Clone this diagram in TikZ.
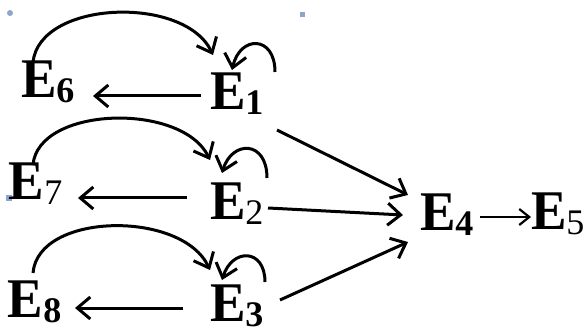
\documentclass[tikz,border=0pt]{standalone}
\usepackage{fontspec}
\setmainfont{Liberation Serif}
\usetikzlibrary{arrows.meta,calc}
\definecolor{handle}{RGB}{140,165,205}
\newcommand{\Elab}[2]{\scalebox{0.95}[1]{\fontsize{56}{56}\selectfont\bfseries E}\raisebox{-5pt}{\fontsize{36}{36}\selectfont #1#2}}
\begin{document}
\begin{tikzpicture}[x=1pt,y=-1pt,
  lab/.style={anchor=base west,inner sep=0pt,outer sep=0pt},
  arr/.style={line width=3pt,-{Straight Barb[length=13pt,width=22pt]}},
  thinarr/.style={line width=2.2pt,-{Straight Barb[length=10pt,width=16pt]}},
  handlemark/.style={fill=handle,draw=none}]
\useasboundingbox (0,0) rectangle (588,328);
% selection handles
\fill[handlemark] (10,13) circle (3);
\fill[handlemark] (299.5,12.5) rectangle (304.5,17.5);
\fill[handlemark] (6,195) rectangle (12,201);
% nodes
\node[lab] (e6) at (21,98) {\Elab{\bfseries}{6}};
\node[lab] (e1) at (210,110) {\Elab{\bfseries}{1}};
\node[lab] (e7) at (9,200) {\Elab{\mdseries}{7}};
\node[lab] (e2) at (210,220) {\Elab{\mdseries}{2}};
\node[lab] (e8) at (8,317) {\Elab{\bfseries}{8}};
\node[lab] (e3) at (210,321) {\Elab{\bfseries}{3}};
\node[lab] (e4) at (420,231) {\Elab{\bfseries}{4}};
\node[lab] (e5) at (531,230) {\Elab{\mdseries}{5}};
% horizontal arrows to the left
\draw[arr] ($(e1.base west)+(-9,-14)$) -- ($(e6.base west)+(72,-2)$);
\draw[arr] ($(e2.base west)+(-23,-22)$) -- ($(e7.base west)+(69,-2)$);
\draw[arr] ($(e3.base west)+(-27,-13)$) -- ($(e8.base west)+(67,-9)$);
% arrows into E4
\draw[arr] ($(e1.base west)+(67,20)$) -- ($(e4.base west)+(-12,-36)$);
\draw[arr] ($(e2.base west)+(58,-12)$) -- ($(e4.base west)+(-17,-16)$);
\draw[arr] ($(e3.base west)+(70,-21)$) -- ($(e4.base west)+(-12,11)$);
\draw[thinarr] ($(e4.base west)+(60,-14)$) -- ($(e5.base west)+(0,-13)$);
% big arcs
\draw[arr] ($(e6.base west)+(12,-36)$) .. controls (40,0) and (185,-5) .. ($(e1.base west)+(3,-55)$);
\draw[arr] ($(e7.base west)+(24,-35)$) .. controls (38,106) and (182,102) .. ($(e2.base west)+(0,-60)$);
\draw[arr] ($(e8.base west)+(25,-44)$) .. controls (38,212) and (182,210) .. ($(e3.base west)+(0,-51)$);
% self loops
\draw[arr] ($(e1.base west)+(65,-38)$) .. controls (275,35) and (240,35) .. ($(e1.base west)+(22,-40)$);
\draw[arr] ($(e2.base west)+(57,-42)$) .. controls (267,140) and (232,140) .. ($(e2.base west)+(12,-47)$);
\draw[arr] ($(e3.base west)+(55,-39)$) .. controls (265,248) and (232,248) .. ($(e3.base west)+(12,-41)$);
\end{tikzpicture}
\end{document}
